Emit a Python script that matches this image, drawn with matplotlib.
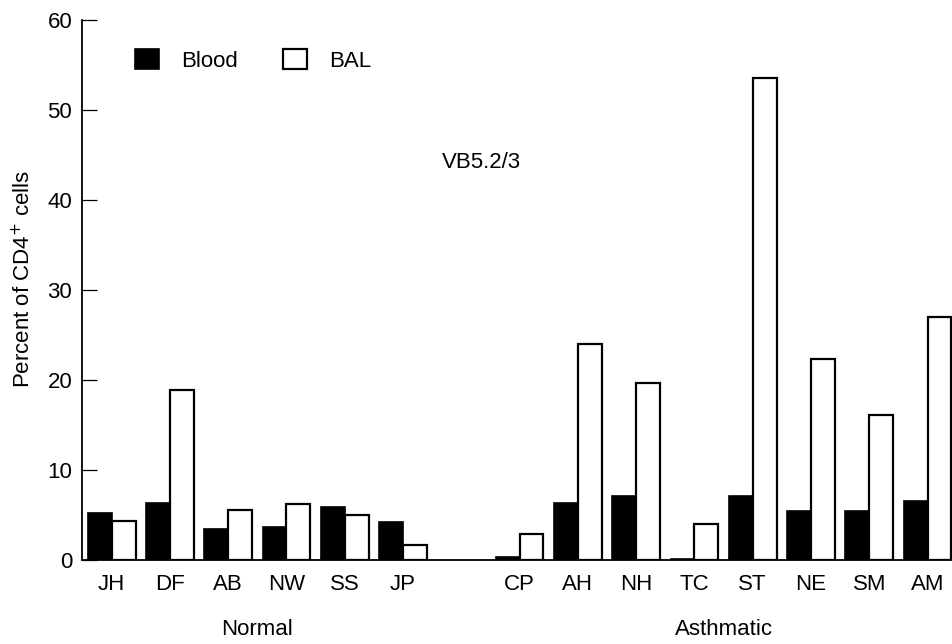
import matplotlib
matplotlib.use('Agg')
import matplotlib.pyplot as plt
import numpy as np

plt.rcParams['font.family'] = ['Liberation Sans', 'DejaVu Sans']

subjects = ['JH', 'DF', 'AB', 'NW', 'SS', 'JP',
            'CP', 'AH', 'NH', 'TC', 'ST', 'NE', 'SM', 'AM']
# gap of one slot between the two groups
slots = [0, 1, 2, 3, 4, 5, 7, 8, 9, 10, 11, 12, 13, 14]
blood = [5.2, 6.3, 3.5, 3.7, 5.9, 4.2,
         0.35, 6.3, 7.1, 0.15, 7.1, 5.4, 5.4, 6.6]
bal = [4.3, 18.9, 5.6, 6.2, 5.0, 1.65,
       2.9, 24.0, 19.7, 4.0, 53.6, 22.4, 16.1, 27.0]
groups = ['Normal', 'Asthmatic']
group_centres = [2.5, 10.5]

fs = 16

fig = plt.figure(figsize=(9.52, 6.44), dpi=100)
ax = fig.add_axes([0.0861, 0.1304, 0.9139, 0.8381])

w = 0.41
x = np.array(slots)
b1 = ax.bar(x - w / 2, blood, w, color='black', edgecolor='black', linewidth=1.2, label='Blood')
b2 = ax.bar(x + w / 2, bal, w, color='white', edgecolor='black', linewidth=1.6, label='BAL')

ax.set_xlim(-0.509, 14.42)
ax.set_ylim(0, 60)
ax.set_yticks([0, 10, 20, 30, 40, 50, 60])
ax.set_xticks(x)
ax.set_xticklabels(subjects)
ax.tick_params(axis='y', direction='in', length=11, width=0.9, labelsize=fs, pad=7)
ax.tick_params(axis='x', length=0, labelsize=fs, pad=10)

for s in ['top', 'right']:
    ax.spines[s].set_visible(False)
for s in ['left', 'bottom']:
    ax.spines[s].set_linewidth(1.3)

ax.set_ylabel('Percent of CD4$^{+}$ cells', fontsize=fs)
ax.yaxis.set_label_coords(-0.054, 0.52)

for name, c in zip(groups, group_centres):
    ax.text(c, -0.139, name, transform=ax.get_xaxis_transform(),
            ha='center', va='baseline', fontsize=fs)

ax.text(6.35, 43.6, 'VB5.2/3', ha='center', va='baseline', fontsize=fs)

ax.legend(handles=[b1, b2], ncol=2, frameon=False, fontsize=fs,
          loc='upper left', bbox_to_anchor=(0.0609, 0.947),
          handlelength=1.08, handleheight=1.04, handletextpad=1.0,
          columnspacing=2.03, borderpad=0, borderaxespad=0)

fig.savefig('out.png', dpi=100)
